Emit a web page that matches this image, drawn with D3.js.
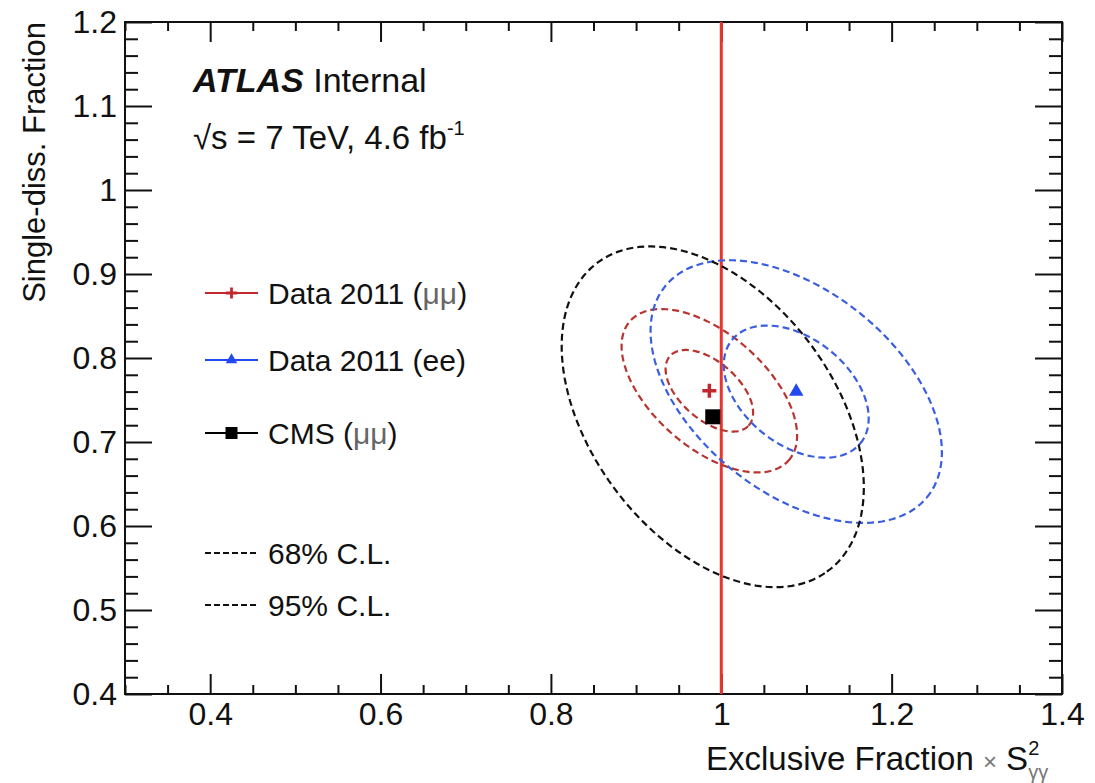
<!DOCTYPE html>
<html>
<head>
<meta charset="utf-8">
<script src="https://cdn.jsdelivr.net/npm/d3@7"></script>
<style>
  body { margin: 0; background: #fff; }
  text { font-family: "Liberation Sans", Arial, Helvetica, sans-serif; fill: #111; }
</style>
</head>
<body>
<div id="chart"></div>
<script>

// measured points (best fit)
var pointNames = ["Data 2011 (\u03bc\u03bc)", "Data 2011 (ee)", "CMS (\u03bc\u03bc)"];
var pointX = [0.986, 1.088, 0.990];
var pointY = [0.761, 0.760, 0.730];
var pointColor = ["#c0282d", "#2448f0", "#000000"];
var ellColor = ["#b83430", "#3a5ee0", "#111111"];

// confidence contours: which point, semi-axes (data units), tilt (deg)
var ellSeries = [0, 0, 1, 1, 2];
var ellA = [0.062, 0.1247, 0.0973, 0.1985, 0.228];
var ellB = [0.034, 0.0673, 0.0629, 0.1196, 0.1436];
var ellAngle = [-42, -42, -39.5, -39.5, -54];

// axis ticks
var xMajor = [0.4, 0.6, 0.8, 1.0, 1.2, 1.4];
var xLabels = ["0.4", "0.6", "0.8", "1", "1.2", "1.4"];
var yMajor = [0.4, 0.5, 0.6, 0.7, 0.8, 0.9, 1.0, 1.1, 1.2];
var yLabels = ["0.4", "0.5", "0.6", "0.7", "0.8", "0.9", "1", "1.1", "1.2"];

var clLabels = ["68% C.L.", "95% C.L."];

var W = 1095, H = 783;
var padL = 125, padR = 1062, padT = 22, padB = 694;

var svg = d3.select("#chart").append("svg")
  .attr("width", W).attr("height", H);
svg.append("rect").attr("width", W).attr("height", H).attr("fill", "#fff");

var x = d3.scaleLinear().domain([0.3, 1.4]).range([padL, padR]);
var y = d3.scaleLinear().domain([0.4, 1.2]).range([padB, padT]);

var xMinor = d3.range(0.3, 1.4001, 0.05).filter(function(v) {
  return xMajor.every(function(m) { return Math.abs(m - v) > 1e-6; });
});
var yMinor = d3.range(0.4, 1.2001, 0.02).filter(function(v) {
  return yMajor.every(function(m) { return Math.abs(m - v) > 1e-6; });
});

function draw_axis(axis, tr) {
  var g = svg.append("g").attr("transform", tr).call(axis);
  g.select(".domain").remove();
  g.selectAll("line").attr("stroke", "#111").attr("stroke-width", 2);
  g.selectAll("text").attr("font-size", 32).attr("fill", "#111")
    .style("font-family", "'Liberation Sans', Arial, sans-serif");
  return g;
}

// x axis bottom / top
draw_axis(d3.axisBottom(x).tickValues(xMajor).tickSize(-20).tickPadding(8)
  .tickFormat(function(d, i) { return xLabels[i]; }), "translate(0," + padB + ")");
draw_axis(d3.axisBottom(x).tickValues(xMinor).tickSize(-9).tickFormat(""), "translate(0," + padB + ")");
draw_axis(d3.axisTop(x).tickValues(xMajor).tickSize(-20).tickFormat(""), "translate(0," + padT + ")");
draw_axis(d3.axisTop(x).tickValues(xMinor).tickSize(-9).tickFormat(""), "translate(0," + padT + ")");

// y axis left / right
draw_axis(d3.axisLeft(y).tickValues(yMajor).tickSize(-27).tickPadding(8)
  .tickFormat(function(d, i) { return yLabels[i]; }), "translate(" + padL + ",0)");
draw_axis(d3.axisLeft(y).tickValues(yMinor).tickSize(-13).tickFormat(""), "translate(" + padL + ",0)");
draw_axis(d3.axisRight(y).tickValues(yMajor).tickSize(-27).tickFormat(""), "translate(" + padR + ",0)");
draw_axis(d3.axisRight(y).tickValues(yMinor).tickSize(-13).tickFormat(""), "translate(" + padR + ",0)");

// frame
svg.append("rect")
  .attr("x", padL).attr("y", padT)
  .attr("width", padR - padL).attr("height", padB - padT)
  .attr("fill", "none").attr("stroke", "#111").attr("stroke-width", 2);

// red line at 1
svg.append("line")
  .attr("x1", x(1)).attr("x2", x(1))
  .attr("y1", y(0.4)).attr("y2", y(1.2))
  .attr("stroke", "#e8342f").attr("stroke-width", 3);

// contours
var ellLine = d3.line().x(function(d) { return x(d[0]); }).y(function(d) { return y(d[1]); })
  .curve(d3.curveLinearClosed);

ellSeries.forEach(function(s, i) {
  var th = ellAngle[i] * Math.PI / 180;
  var pts = d3.range(0, 144).map(function(k) {
    var t = k / 144 * 2 * Math.PI;
    return [pointX[s] + ellA[i] * Math.cos(th) * Math.cos(t) - ellB[i] * Math.sin(th) * Math.sin(t),
            pointY[s] + ellA[i] * Math.sin(th) * Math.cos(t) + ellB[i] * Math.cos(th) * Math.sin(t)];
  });
  svg.append("path")
    .attr("d", ellLine(pts))
    .attr("fill", "none")
    .attr("stroke", ellColor[s])
    .attr("stroke-width", 2.2)
    .attr("stroke-dasharray", "7,4");
});

// markers
function marker(g, i, cx, cy, scale) {
  if (i == 0) {
    var r = 7 * scale;
    g.append("path")
      .attr("d", "M" + (cx - r) + "," + cy + "H" + (cx + r) + "M" + cx + "," + (cy - r) + "V" + (cy + r))
      .attr("stroke", pointColor[0]).attr("stroke-width", 3.5 * scale);
  } else if (i == 1) {
    g.append("path")
      .attr("d", d3.symbol().type(d3.symbolTriangle).size(90 * scale * scale)())
      .attr("transform", "translate(" + cx + "," + cy + ")")
      .attr("fill", pointColor[1]);
  } else {
    var h = 7.5 * scale;
    g.append("rect")
      .attr("x", cx - h).attr("y", cy - h).attr("width", 2 * h).attr("height", 2 * h)
      .attr("fill", pointColor[2]);
  }
}

pointX.forEach(function(px, i) {
  marker(svg, i, x(px), y(pointY[i]), 1);
});

// legend
var legY = [293, 360, 433];
pointNames.forEach(function(name, i) {
  svg.append("line")
    .attr("x1", 205).attr("x2", 258).attr("y1", legY[i]).attr("y2", legY[i])
    .attr("stroke", pointColor[i]).attr("stroke-width", 2);
  marker(svg, i, 231.5, legY[i], 0.8);
  var t = svg.append("text").attr("x", 268).attr("y", legY[i] + 11).attr("font-size", 30);
  var m = name.indexOf("(\u03bc\u03bc)");
  if (m >= 0) {
    t.append("tspan").text(name.slice(0, m) + "(");
    t.append("tspan").attr("fill", "#666").text("\u03bc\u03bc");
    t.append("tspan").text(")");
  } else {
    t.text(name);
  }
});

var clY = [553, 605];
clLabels.forEach(function(lab, i) {
  svg.append("line")
    .attr("x1", 205).attr("x2", 258).attr("y1", clY[i]).attr("y2", clY[i])
    .attr("stroke", "#111").attr("stroke-width", 1.8).attr("stroke-dasharray", "6,3");
  svg.append("text").attr("x", 268).attr("y", clY[i] + 11).attr("font-size", 30).text(lab);
});

// ATLAS label
var at = svg.append("text").attr("x", 193).attr("y", 92).attr("font-size", 34);
at.append("tspan").attr("font-weight", "bold").attr("font-style", "italic").text("ATLAS");
at.append("tspan").text(" Internal");

var en = svg.append("text").attr("x", 193).attr("y", 149).attr("font-size", 33);
en.append("tspan").text("\u221as = 7 TeV, 4.6 fb");
en.append("tspan").attr("font-size", 20).attr("dy", -14).text("-1");

// axis titles
svg.append("text")
  .attr("transform", "translate(45," + padT + ") rotate(-90)")
  .attr("text-anchor", "end")
  .attr("font-size", 31)
  .text("Single-diss. Fraction");

var xt = svg.append("text").attr("x", 706).attr("y", 770).attr("font-size", 33);
xt.append("tspan").text("Exclusive Fraction ");
xt.append("tspan").attr("fill", "#777").attr("font-size", 24).text("\u00d7");
xt.append("tspan").text(" S");
xt.append("tspan").attr("font-size", 20).attr("dy", -15).text("2");
xt.append("tspan").attr("font-size", 20).attr("fill", "#777").attr("dx", -11).attr("dy", 24).text("\u03b3\u03b3");

</script>
</body>
</html>
